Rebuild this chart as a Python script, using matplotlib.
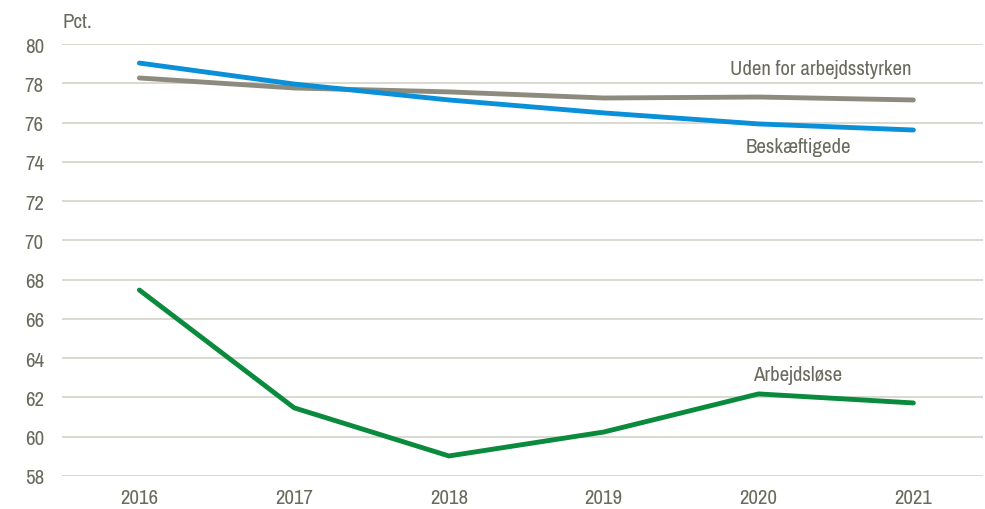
import matplotlib
matplotlib.use("Agg")
import matplotlib.pyplot as plt
from matplotlib import font_manager

years = [2016, 2017, 2018, 2019, 2020, 2021]
beskaeftigede = [79.03, 77.96, 77.15, 76.49, 75.93, 75.62]
uden_for = [78.27, 77.76, 77.56, 77.25, 77.30, 77.15]
arbejdsloese = [67.47, 61.47, 59.02, 60.24, 62.18, 61.72]
yticks = list(range(58, 81, 2))

names = sorted({f.name for f in font_manager.fontManager.ttflist})
narrow = [n for n in names if "Narrow" in n or "Condensed" in n]
plt.rcParams['font.family'] = narrow[:1] + ["Liberation Sans", "DejaVu Sans"]
fs = 15 if narrow else 14

txt = "#6b6a5e"
fig = plt.figure(figsize=(9.85, 5.10), dpi=100)
ax = fig.add_axes([62/985, 33/510, (983-62)/985, (477-45)/510])

ax.plot(years, uden_for, color="#8c8b7e", lw=3.5, solid_capstyle="round")
ax.plot(years, beskaeftigede, color="#0a90d8", lw=3.5, solid_capstyle="round")
ax.plot(years, arbejdsloese, color="#0a8a3c", lw=3.5, solid_capstyle="round")

ax.set_xlim(2015.5, 2021.45)
ax.set_ylim(58, 80)
ax.set_yticks(yticks)
ax.set_xticks(years)
ax.grid(axis="y", color="#d3d2c9", lw=1.2)
ax.set_axisbelow(True)
for s in ax.spines.values():
    s.set_visible(False)
ax.tick_params(length=0, labelsize=fs, colors=txt)
ax.tick_params(axis="y", pad=13)
ax.tick_params(axis="x", pad=9)

ax.text(2020.4, 78.73, "Uden for arbejdsstyrken", ha="center", va="center", fontsize=fs, color=txt)
ax.text(2020.26, 74.76, "Beskæftigede", ha="center", va="center", fontsize=fs, color=txt)
ax.text(2020.25, 63.15, "Arbejdsløse", ha="center", va="center", fontsize=fs, color=txt)
fig.text(63/985, 1 - 22/510, "Pct.", ha="left", va="center", fontsize=fs, color=txt)

fig.savefig("out.png", dpi=100)
